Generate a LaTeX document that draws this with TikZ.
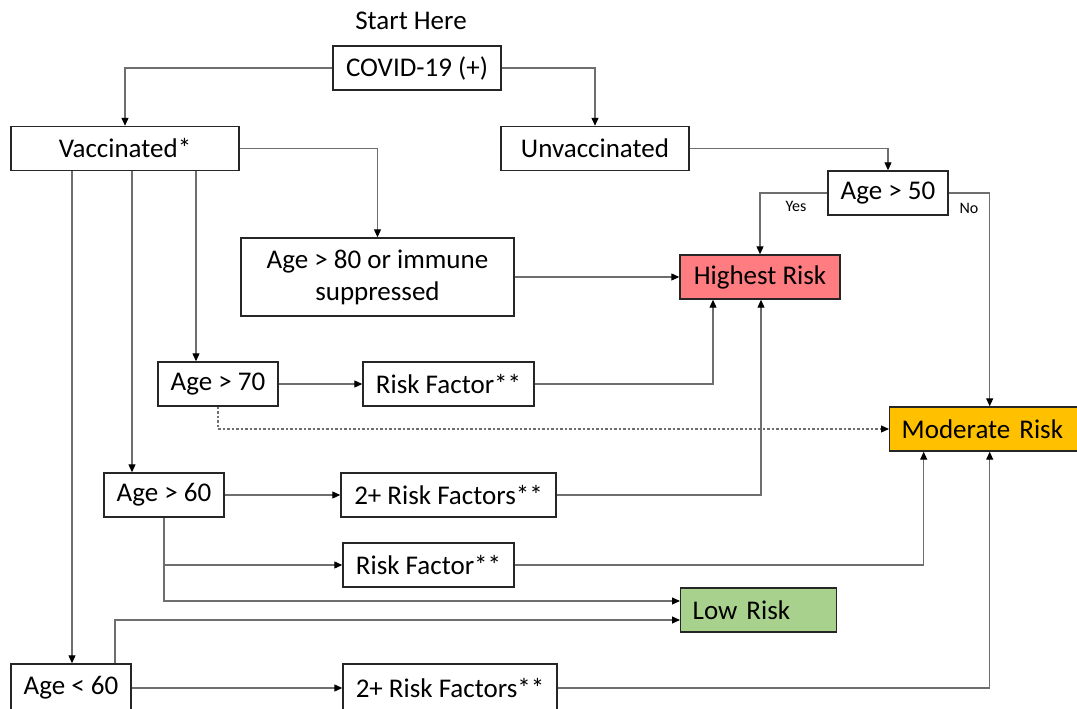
\documentclass[tikz,border=0pt]{standalone}
\usepackage{fontspec}
\setmainfont{Carlito}
\usetikzlibrary{arrows.meta}
\definecolor{hired}{HTML}{FF7C80}
\definecolor{modor}{HTML}{FFC000}
\definecolor{lowgr}{HTML}{A9D18E}
\definecolor{conngray}{HTML}{6E6E6E}
\begin{document}
\begin{tikzpicture}[x=1pt,y=-1pt,
  box/.style={draw=black!85, line width=1.4pt, inner sep=0pt, minimum height=44pt, font=\fontsize{27}{32}\selectfont},
  conn/.style={draw=conngray, line width=1.1pt, -{Triangle[length=8pt,width=7pt,color=black]}},
  lbl/.style={font=\fontsize{16}{18}\selectfont}]
\useasboundingbox (0,0) rectangle (1077,709);
\begin{scope}
\clip (0,0) rectangle (1077,709);
\node[font=\fontsize{27}{32}\selectfont] (start) at (411,21) {Start Here};
\node[box, minimum width=168pt] (covid) at (417,68) {COVID-19 (+)};
\node[box, minimum width=228pt] (vacc) at (125,148.5) {Vaccinated*};
\node[box, minimum width=188pt] (unvacc) at (595,148.5) {Unvaccinated};
\node[box, minimum width=120pt] (age50) at (888,193) {Age > 50};
\node[box, minimum width=273pt, minimum height=78pt, align=center] (age80) at (377.5,277) {Age > 80 or immune\\suppressed};
\node[box, fill=hired, minimum width=160pt] (hr) at (760,277) {Highest Risk};
\node[box, minimum width=120pt] (age70) at (218,384) {Age > 70};
\node[box, minimum width=171pt] (rfa) at (448.5,384) {Risk Factor**};
\node[box, fill=modor, anchor=west, inner xsep=12pt, text width=176pt, align=left] (mod) at (889,429) {Moderate Risk};
\node[box, minimum width=120pt] (age60) at (164,495) {Age > 60};
\node[box, minimum width=215pt] (rf2a) at (448.5,495) {2+ Risk Factors**};
\node[box, minimum width=171pt] (rfb) at (428.5,565) {Risk Factor**};
\node[box, fill=lowgr, anchor=west, inner xsep=12pt, text width=132pt, align=left] (low) at (680,610) {Low Risk};
\node[box, minimum width=120pt, minimum height=48pt] (age60b) at (71,688) {Age < 60};
\node[box, minimum width=214pt, minimum height=48pt] (rf2b) at (450,688) {2+ Risk Factors**};
\node[lbl] (yes) at (796,206) {Yes};
\node[lbl] (no) at (969,208) {No};

\draw[conn] (covid.west) -| (vacc.north);
\draw[conn] (covid.east) -| (unvacc.north);
\draw[conn] (vacc.east) -| (age80.north);
\coordinate (v70) at ([xshift=71pt]vacc.south);
\draw[conn] (v70) -- (v70 |- age70.north);
\coordinate (v60) at ([xshift=7pt]vacc.south);
\draw[conn] (v60) -- (v60 |- age60.north);
\coordinate (v59) at ([xshift=-53pt]vacc.south);
\draw[conn] (v59) -- (v59 |- age60b.north);
\draw[conn] (unvacc.east) -| (age50.north);
\draw[conn] (age50.west) -| (hr.north);
\draw[conn] (age50.east) -| (mod.north);
\draw[conn] (age80.east) -- (hr.west);
\draw[conn] (age70.east) -- (rfa.west);
\coordinate (h713) at ([xshift=-47pt]hr.south);
\draw[conn] (rfa.east) -| (h713);
\draw[conn, dash pattern=on 2.5pt off 2pt] (age70.south) |- (mod.west);
\draw[conn] (age60.east) -- (rf2a.west);
\coordinate (h761) at ([xshift=1pt]hr.south);
\draw[conn] (rf2a.east) -| (h761);
\coordinate (l1) at ([yshift=9pt]low.west);
\coordinate (l2) at ([yshift=-10pt]low.west);
\draw[conn] (age60.south) |- (l1);
\draw[conn] (age60.south |- rfb.west) -- (rfb.west);
\coordinate (m923) at ([xshift=-66pt]mod.south);
\draw[conn] (rfb.east) -| (m923);
\coordinate (a115) at ([xshift=44pt]age60b.north);
\draw[conn] (a115) |- (l2);
\draw[conn] (age60b.east) -- (rf2b.west);
\draw[conn] (rf2b.east) -| (mod.south);
\end{scope}
\end{tikzpicture}
\end{document}
